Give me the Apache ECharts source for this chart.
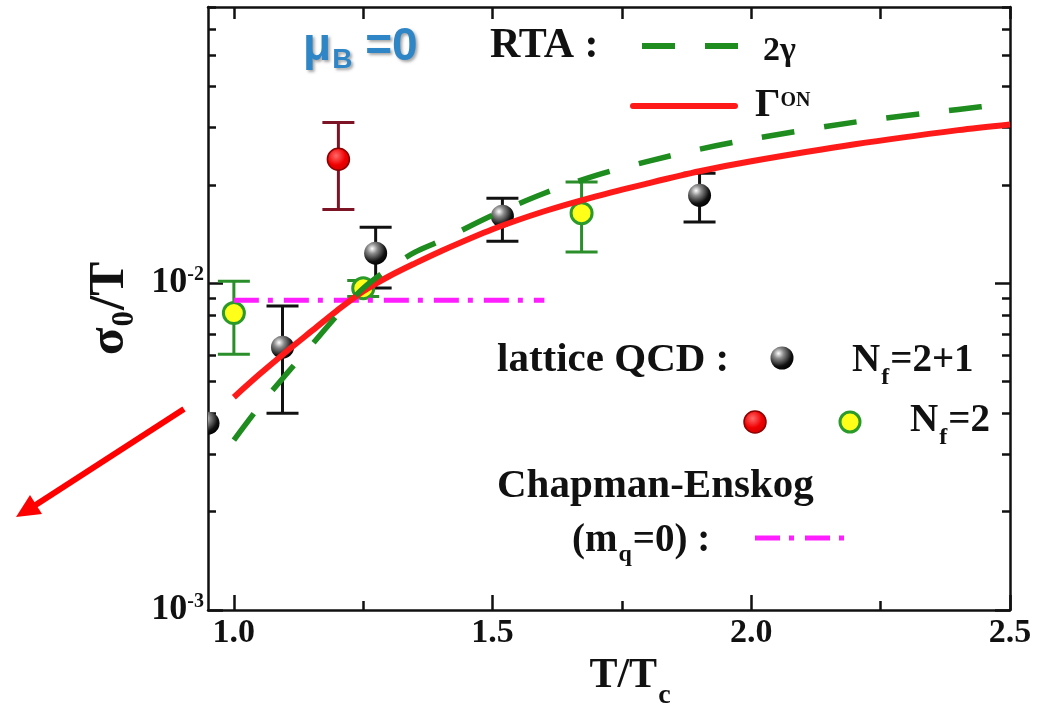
<!DOCTYPE html>
<html><head><meta charset="utf-8">
<script src="https://cdn.jsdelivr.net/npm/echarts@6/dist/echarts.min.js"></script>
<style>html,body{margin:0;padding:0;background:#fff}#c{width:1047px;height:715px}</style>
</head><body><div id="c"></div>
<script>
// ---- data ----
const curveT      = [1.0, 1.05, 1.1, 1.15, 1.2, 1.25, 1.3, 1.35, 1.4, 1.5, 1.6, 1.7, 1.8, 1.9, 2.0, 2.2, 2.4, 2.5];
const rta2gamma   = [0.00331, 0.00421, 0.00524, 0.00646, 0.00798, 0.00965, 0.0111, 0.01244, 0.0135, 0.01614, 0.01885, 0.02138, 0.0236, 0.0257, 0.0276, 0.0311, 0.0340, 0.0355];
const rtaGammaON  = [0.00448, 0.00527, 0.00615, 0.00713, 0.00826, 0.00945, 0.0105, 0.0115, 0.01253, 0.01462, 0.0166, 0.01844, 0.0202, 0.0220, 0.0236, 0.0266, 0.0294, 0.0306];
const ceT         = [1.0, 1.6];
const ceSigma     = [0.00887, 0.00887];

const nf21T     = [0.95, 1.094, 1.274, 1.519, 1.900];
const nf21Sigma = [0.00373, 0.00637, 0.01235, 0.01603, 0.01858];
const nf21Lo    = [null, 0.0040, 0.00966, 0.01343, 0.01538];
const nf21Hi    = [null, 0.00851, 0.01483, 0.0182, 0.0217];

const nf2RedT     = [1.202];
const nf2RedSigma = [0.02394];
const nf2RedLo    = [0.0168];
const nf2RedHi    = [0.031];

const nf2YelT     = [1.0, 1.25, 1.672];
const nf2YelSigma = [0.0081, 0.00965, 0.01637];
const nf2YelLo    = [0.00606, 0.0091, 0.01245];
const nf2YelHi    = [0.01014, 0.0102, 0.0204];

const xMajorTicks = [1.0, 1.5, 2.0, 2.5];
const xMinorTicks = [1.25, 1.75, 2.25];
const yMajorTicks = [0.001, 0.01];
const yMinorTicks = [0.002,0.003,0.004,0.005,0.006,0.007,0.008,0.009,0.02,0.03,0.04,0.05,0.06,0.07];

// ---- helpers ----
const zip = (a, b) => a.map((v, i) => [v, b[i]]);
const errData = (x, lo, hi) => x.map((v, i) => [v, lo[i], hi[i]]).filter(d => d[1] != null);
const SERIF = "'Liberation Serif','Times New Roman',serif";
const SANS = "'Liberation Sans',Arial,sans-serif";
const INK = '#111';
const XMIN = 0.95, XMAX = 2.5, YMIN = 0.001, YMAX = 0.07;

function errRender(color, half) {
  return function (params, api) {
    const x = api.value(0), lo = api.value(1), hi = api.value(2);
    const a = api.coord([x, hi]), b = api.coord([x, lo]);
    const st = { stroke: color, lineWidth: 3 };
    return { type: 'group', children: [
      { type: 'line', shape: { x1: a[0], y1: a[1], x2: b[0], y2: b[1] }, style: st },
      { type: 'line', shape: { x1: a[0] - half, y1: a[1], x2: a[0] + half, y2: a[1] }, style: st },
      { type: 'line', shape: { x1: b[0] - half, y1: b[1], x2: b[0] + half, y2: b[1] }, style: st }
    ]};
  };
}
const sphere = () => new echarts.graphic.RadialGradient(0.35, 0.3, 0.75, [
  { offset: 0, color: '#ffffff' }, { offset: 0.3, color: '#8a8a8a' }, { offset: 0.75, color: '#111' }, { offset: 1, color: '#000' }]);
const redBall = () => new echarts.graphic.RadialGradient(0.4, 0.35, 0.8, [
  { offset: 0, color: '#ff6a6a' }, { offset: 0.5, color: '#f00000' }, { offset: 1, color: '#c00000' }]);

function sphereRender(params, api) {
  const p = api.coord([api.value(0), api.value(1)]);
  return { type: 'circle', shape: { cx: p[0], cy: p[1], r: 11.5 }, style: { fill: sphere() } };
}

function tok(size, extra) {
  return Object.assign({ fontSize: size, fontFamily: SERIF, fontWeight: 'bold', fill: INK, verticalAlign: 'top' }, extra || {});
}
function gtext(x, capTop, size, text, rich) {
  return { type: 'text', x: x, y: capTop - 0.178 * size, z: 100,
    style: { text: text, rich: rich, verticalAlign: 'top', align: 'left' } };
}

const chart = echarts.init(document.getElementById('c'), null, { renderer: 'canvas' });

const axLine = { show: true, lineStyle: { color: INK, width: 2.5 } };
const tickStyle = { color: INK, width: 2.5 };

const xBase = { type: 'value', min: XMIN, max: XMAX, splitLine: { show: false } };
const yBase = { type: 'log', logBase: 10, min: YMIN, max: YMAX, splitLine: { show: false } };

const option = {
  animation: false,
  backgroundColor: '#ffffff',
  grid: { left: 208, right: 37, top: 7, bottom: 105, containLabel: false },
  xAxis: [
    Object.assign({}, xBase, {
      position: 'bottom',
      axisLine: axLine,
      axisTick: { show: true, inside: true, length: 15, customValues: xMajorTicks, lineStyle: tickStyle },
      axisLabel: { customValues: xMajorTicks, formatter: v => Number(v).toFixed(1), margin: 6,
        fontSize: 34, fontFamily: SERIF, fontWeight: 'bold', color: INK },
      name: '{m|T/T}{s|c}', nameLocation: 'middle', nameGap: 44.5,
      nameTextStyle: { padding: [0, 0, 0, 42], rich: {
        m: { fontSize: 42, fontFamily: SERIF, fontWeight: 'bold', color: INK, verticalAlign: 'top' },
        s: { fontSize: 28, fontFamily: SERIF, fontWeight: 'bold', color: INK, verticalAlign: 'top', padding: [27, 0, 0, 1] } } }
    }),
    Object.assign({}, xBase, {
      position: 'bottom', axisLine: { show: false },
      axisTick: { show: true, inside: true, length: 9, customValues: xMinorTicks, lineStyle: tickStyle },
      axisLabel: { show: false }
    }),
    Object.assign({}, xBase, {
      position: 'top', axisLine: axLine,
      axisTick: { show: true, inside: true, length: 12, customValues: xMajorTicks.concat(xMinorTicks), lineStyle: tickStyle },
      axisLabel: { show: false }
    })
  ],
  yAxis: [
    Object.assign({}, yBase, {
      position: 'left', axisLine: axLine,
      axisTick: { show: true, inside: true, length: 15, customValues: yMajorTicks, lineStyle: tickStyle },
      axisLabel: { customValues: yMajorTicks, margin: 4,
        formatter: v => '{b|10}{s|' + Math.round(Math.log10(v)) + '}',
        rich: {
          b: { fontSize: 36, fontFamily: SERIF, fontWeight: 'bold', color: INK, verticalAlign: 'bottom', lineHeight: 36 },
          s: { fontSize: 20, fontFamily: SERIF, fontWeight: 'bold', color: INK, verticalAlign: 'top', lineHeight: 20 } } },
      name: '{m|σ}{s|0}{m|/T}', nameLocation: 'middle', nameGap: 67,
      nameTextStyle: { rich: {
        m: { fontSize: 51, fontFamily: SERIF, fontWeight: 'bold', color: INK, verticalAlign: 'top' },
        s: { fontSize: 31, fontFamily: SERIF, fontWeight: 'bold', color: INK, verticalAlign: 'top', padding: [25, 1, 0, 1] } } }
    }),
    Object.assign({}, yBase, {
      position: 'left', axisLine: { show: false },
      axisTick: { show: true, inside: true, length: 8, customValues: yMinorTicks, lineStyle: tickStyle },
      axisLabel: { show: false }
    }),
    Object.assign({}, yBase, {
      position: 'right', axisLine: axLine,
      axisTick: { show: true, inside: true, length: 15, customValues: yMajorTicks, lineStyle: tickStyle },
      axisLabel: { show: false }
    }),
    Object.assign({}, yBase, {
      position: 'right', axisLine: { show: false },
      axisTick: { show: true, inside: true, length: 8, customValues: yMinorTicks, lineStyle: tickStyle },
      axisLabel: { show: false }
    })
  ],
  series: [
    { type: 'custom', name: 'err21', z: 2, renderItem: errRender('#111', 16),
      encode: { x: 0, y: [1, 2] }, data: errData(nf21T, nf21Lo, nf21Hi) },
    { type: 'custom', name: 'errRed', z: 2, renderItem: errRender('#7d1426', 16),
      encode: { x: 0, y: [1, 2] }, data: errData(nf2RedT, nf2RedLo, nf2RedHi) },
    { type: 'custom', name: 'errYel', z: 2, renderItem: errRender('#2a8f2a', 16),
      encode: { x: 0, y: [1, 2] }, data: errData(nf2YelT, nf2YelLo, nf2YelHi) },
    { type: 'custom', name: 'Nf=2+1', z: 3, clip: true, renderItem: sphereRender,
      encode: { x: 0, y: 1 }, data: zip(nf21T, nf21Sigma) },
    { type: 'scatter', name: 'Nf=2 red', z: 3, symbol: 'circle', symbolSize: 22,
      itemStyle: { color: redBall(), borderColor: '#8b0000', borderWidth: 1.5, opacity: 1 }, data: zip(nf2RedT, nf2RedSigma) },
    { type: 'scatter', name: 'Nf=2 yellow', z: 3, symbol: 'circle', symbolSize: 21,
      itemStyle: { color: '#ffff1a', borderColor: '#2a9a2a', borderWidth: 3, opacity: 1 }, data: zip(nf2YelT, nf2YelSigma) },
    { type: 'line', name: 'Chapman-Enskog', z: 4, showSymbol: false, symbol: 'none',
      lineStyle: { color: '#ff1eff', width: 5, type: [25, 9, 5, 11], cap: 'butt' }, data: zip(ceT, ceSigma) },
    { type: 'line', name: 'Gamma ON', z: 5, showSymbol: false, symbol: 'none', smooth: 0.3,
      lineStyle: { color: '#ff1a1a', width: 6 }, data: zip(curveT, rtaGammaON) },
    { type: 'line', name: '2 gamma', z: 6, showSymbol: false, symbol: 'none', smooth: 0.3,
      lineStyle: { color: '#1e8c1e', width: 5.5, type: [33, 30], cap: 'butt' }, data: zip(curveT, rta2gamma) }
  ],
  graphic: [
    // mu_B = 0
    { type: 'text', x: 303, y: 24, z: 100, style: {
      text: '{m|μ}{b|B}{e| =0}', verticalAlign: 'top',
      rich: (function () {
        const sh = { fill: '#2f86c6', fontFamily: SANS, fontWeight: 'bold', verticalAlign: 'top',
          textShadowColor: 'rgba(0,0,0,0.35)', textShadowBlur: 3, textShadowOffsetX: 2, textShadowOffsetY: 2 };
        return { m: Object.assign({ fontSize: 46 }, sh), e: Object.assign({ fontSize: 46 }, sh),
          b: Object.assign({ fontSize: 28, padding: [22, 0, 0, 1] }, sh) };
      })() } },
    // RTA legend
    gtext(490, 33, 42, '{a|RTA :}', { a: tok(42) }),
    { type: 'line', z: 100, shape: { x1: 642, y1: 46, x2: 738, y2: 46 },
      style: { stroke: '#1e8c1e', lineWidth: 6, lineDash: [33, 30] } },
    gtext(763, 40, 34, '{a|2γ}', { a: tok(34) }),
    { type: 'line', z: 100, shape: { x1: 633, y1: 106, x2: 735, y2: 106 },
      style: { stroke: '#ff1a1a', lineWidth: 6, lineCap: 'round' } },
    gtext(755, 93, 40, '{a|Γ}{s|ON}', { a: tok(40), s: tok(20, { padding: [5, 0, 0, 0] }) }),
    // lattice QCD legend
    gtext(497, 347, 41, '{a|lattice QCD :}', { a: tok(41) }),
    { type: 'circle', z: 100, shape: { cx: 782, cy: 358, r: 11.5 }, style: { fill: sphere() } },
    gtext(852, 348, 39, '{a|N}{s|f}{a|=2+1}', { a: tok(39), s: tok(24, { padding: [25, 1, 0, 1] }) }),
    { type: 'circle', z: 100, shape: { cx: 755, cy: 422, r: 11 }, style: { fill: redBall(), stroke: '#8b0000', lineWidth: 1.5 } },
    { type: 'circle', z: 100, shape: { cx: 850, cy: 422, r: 10 }, style: { fill: '#ffff1a', stroke: '#2a9a2a', lineWidth: 3 } },
    gtext(910, 408, 39, '{a|N}{s|f}{a|=2}', { a: tok(39), s: tok(24, { padding: [25, 1, 0, 1] }) }),
    // Chapman-Enskog legend
    gtext(497, 473, 41, '{a|Chapman-Enskog}', { a: tok(41) }),
    gtext(572, 528, 39, '{a|(m}{s|q}{a|=0) :}', { a: tok(39), s: tok(24, { padding: [22, 1, 0, 1] }) }),
    { type: 'line', z: 100, shape: { x1: 755, y1: 538, x2: 848, y2: 538 },
      style: { stroke: '#ff1eff', lineWidth: 5, lineDash: [25, 9, 5, 11] } },
    // red arrow annotation
    { type: 'line', z: 100, shape: { x1: 184, y1: 409, x2: 34, y2: 506 },
      style: { stroke: '#ff0000', lineWidth: 6 } },
    { type: 'polygon', z: 100, shape: { points: [[16, 517], [30, 495], [42, 514]] },
      style: { fill: '#ff0000' } }
  ]
};
chart.setOption(option);
</script></body></html>
